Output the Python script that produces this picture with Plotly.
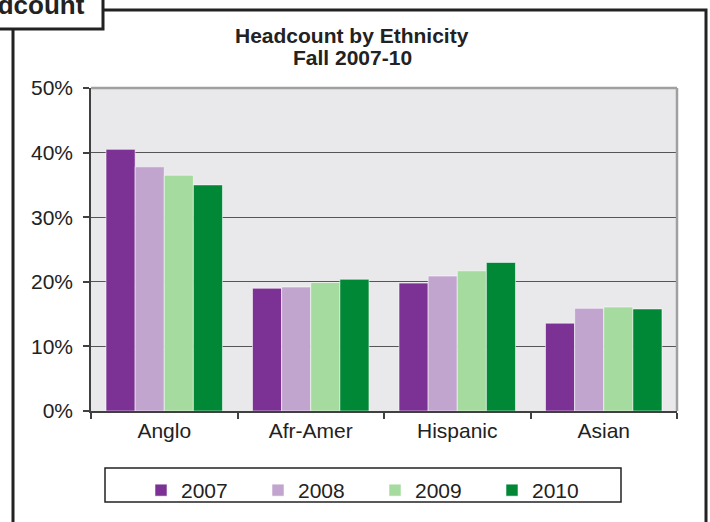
import plotly.graph_objects as go

categories = ["Anglo", "Afr-Amer", "Hispanic", "Asian"]
years = ["2007", "2008", "2009", "2010"]
values = {
    "2007": [0.405, 0.190, 0.198, 0.136],
    "2008": [0.378, 0.192, 0.209, 0.159],
    "2009": [0.365, 0.199, 0.217, 0.161],
    "2010": [0.350, 0.204, 0.230, 0.158],
}
colors = {"2007": "#7B3294", "2008": "#C2A5CF", "2009": "#A6DBA0", "2010": "#008837"}
y_ticks = [0, 0.1, 0.2, 0.3, 0.4, 0.5]

W, H = 710, 522
L, R, T, B = 91, 677, 88, 411
PW, PH = R - L, B - T


def px(x):
    return (x - L) / PW


def py(y):
    return (B - y) / PH


FONT = "Liberation Sans, Arial, sans-serif"
TXT = "#222222"

fig = go.Figure()
for yr in years:
    fig.add_trace(go.Bar(
        name=yr, x=categories, y=values[yr],
        marker=dict(color=colors[yr], line=dict(color="rgba(255,255,255,0.55)", width=1)),
    ))

shapes = [
    # outer frame
    dict(type="rect", xref="paper", yref="paper", x0=px(13), x1=px(706), y0=py(540), y1=py(10),
         line=dict(color="#222222", width=3), fillcolor="rgba(0,0,0,0)", layer="below"),
    # tab box
    dict(type="rect", xref="paper", yref="paper", x0=px(-4), x1=px(103), y0=py(29), y1=py(-4),
         line=dict(color="#222222", width=3), fillcolor="white", layer="above"),
    # plot border top and right
    dict(type="line", xref="paper", yref="paper", x0=0, x1=1, y0=1, y1=1,
         line=dict(color="#A0A0A0", width=2.5)),
    dict(type="line", xref="paper", yref="paper", x0=1, x1=1, y0=0, y1=1,
         line=dict(color="#A0A0A0", width=2.5)),
    # legend box
    dict(type="rect", xref="paper", yref="paper", x0=px(105), x1=px(621), y0=py(502), y1=py(468),
         line=dict(color="#222222", width=1.5), fillcolor="rgba(0,0,0,0)"),
]

annotations = [
    dict(text="<b>Headcount</b>", xref="paper", yref="paper", x=px(87), y=py(22),
         xanchor="right", yanchor="bottom", showarrow=False,
         font=dict(family=FONT, size=26, color=TXT)),
    dict(text="<b>Headcount by Ethnicity</b>", xref="paper", yref="paper", x=px(352), y=py(35),
         xanchor="center", yanchor="middle", showarrow=False,
         font=dict(family=FONT, size=21, color=TXT)),
    dict(text="<b>Fall 2007-10</b>", xref="paper", yref="paper", x=px(352), y=py(57),
         xanchor="center", yanchor="middle", showarrow=False,
         font=dict(family=FONT, size=21, color=TXT)),
]

fig.update_layout(
    width=W, height=H,
    margin=dict(l=L, r=W - R, t=T, b=H - B, autoexpand=False),
    paper_bgcolor="white", plot_bgcolor="#E9E9EC",
    barmode="group", bargap=0.205, bargroupgap=0,
    font=dict(family=FONT, size=21, color=TXT),
    showlegend=True,
    legend=dict(orientation="h", x=px(141), y=py(470), xanchor="left", yanchor="top",
                entrywidth=72, entrywidthmode="pixels", bgcolor="rgba(0,0,0,0)",
                font=dict(family=FONT, size=21, color=TXT), traceorder="normal"),
    shapes=shapes, annotations=annotations,
)
fig.update_xaxes(
    showline=True, linecolor="#404040", linewidth=1.5,
    ticks="outside", ticklen=6, tickcolor="#404040", tickwidth=1.5,
    tickson="boundaries", showgrid=False,
    tickfont=dict(family=FONT, size=21, color=TXT),
)
fig.update_yaxes(
    range=[0, 0.5], tickvals=y_ticks, tickformat=".0%",
    showline=True, linecolor="#404040", linewidth=1.5,
    ticks="outside", ticklen=6, tickcolor="#404040", tickwidth=1.5,
    showgrid=True, gridcolor="#555555", gridwidth=1.2, zeroline=False,
    ticklabelstandoff=6,
    tickfont=dict(family=FONT, size=21, color=TXT),
)

fig.write_html(
    "out.html",
    config={"displayModeBar": False},
    post_script="document.body.style.margin='0';document.body.style.overflow='hidden';",
)
